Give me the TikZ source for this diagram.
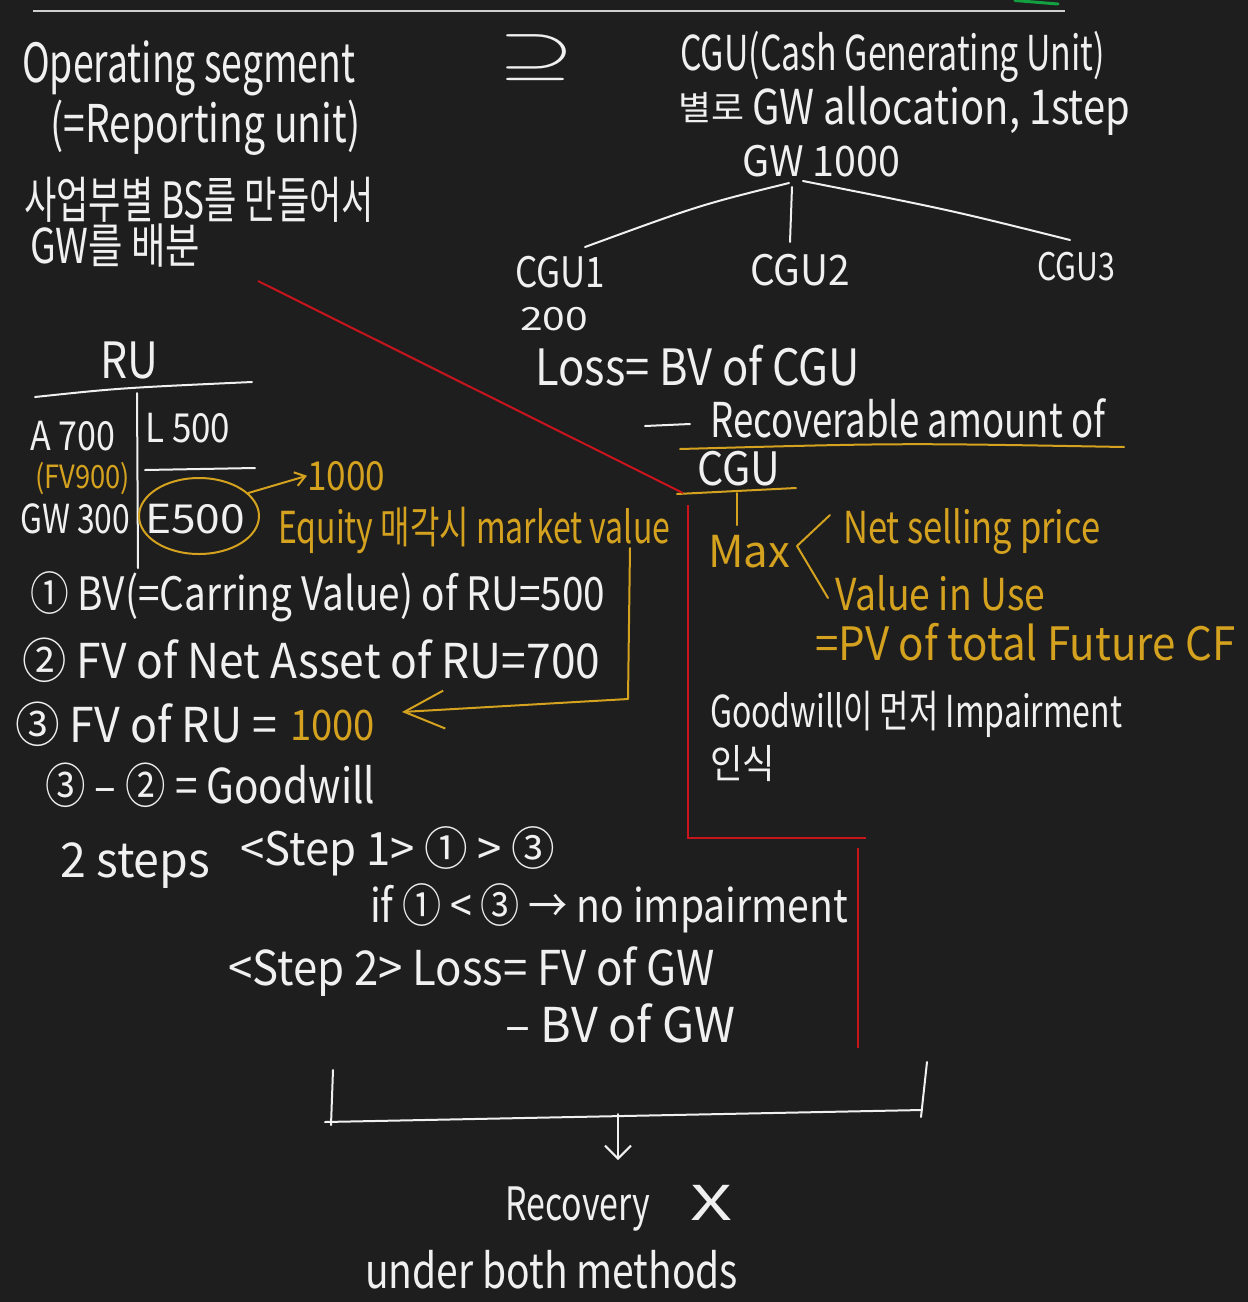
\documentclass[tikz,border=0pt]{standalone}
\usepackage{fontspec}
\setmainfont{Noto Sans CJK KR}
\usepackage{graphicx}
\usetikzlibrary{arrows.meta,shapes.geometric}
\definecolor{bg}{HTML}{1E1E1E}
\definecolor{ink}{HTML}{F0F0F0}
\definecolor{gold}{HTML}{D4A21E}
\definecolor{redl}{HTML}{C8141C}
\definecolor{rulec}{HTML}{D0D0D0}
\definecolor{grn}{HTML}{12A040}
\newcommand{\hw}[3]{\resizebox{#1pt}{\height}{\fontsize{#2pt}{#2pt}\selectfont #3}}
\begin{document}
\begin{tikzpicture}[x=1pt,y=-1pt,
  wt/.style={inner sep=0pt, anchor=base west, text=ink},
  gt/.style={wt, text=gold},
  wl/.style={draw=ink, line width=2, line cap=round, line join=round},
  gl/.style={draw=gold, line width=2, line cap=round, line join=round},
  rl/.style={draw=redl, line width=2}]
\fill[bg] (0,0) rectangle (1248,1302);
\useasboundingbox (0,0) rectangle (1248,1302);

% top rule
\draw[draw=rulec, line width=2.5] (33,11) -- (1065,11);
\draw[draw=grn, line width=3, line cap=round] (1015,0.5) -- (1058,4);

% top left
\node[wt] (opseg) at (22,82) {\hw{333}{54}{Operating segment}};
\node[wt] (repu) at (50,142) {\hw{310}{52}{(=Reporting unit)}};
\node[wt] (kr1) at (24,218) {\hw{350}{50}{사업부별 BS를 만들어서}};
\node[wt] (kr2) at (30,263) {\hw{170}{48}{GW를 배분}};
\node[inner sep=2pt, text=ink] (supeq) at (537,58) {\resizebox*{76pt}{46pt}{$\supseteq$}};

% top right
\node[wt] (cgut) at (680,70) {\hw{425}{48}{CGU(Cash Generating Unit)}};
\node[wt] (byl) at (678,120) {\hw{66}{34}{별로}};
\node[wt] (alloc) at (752,124) {\hw{378}{48}{GW allocation, 1step}};
\node[wt] (gw) at (742,176) {\hw{158}{42}{GW 1000}};
\node[wt] (c1) at (515,287) {\hw{90}{42}{CGU1}};
\node[wt] (c2) at (750,285) {\hw{100}{42}{CGU2}};
\node[wt] (c3) at (1037,280) {\hw{78}{38}{CGU3}};
\node[wt] (two) at (520,330) {\hw{68}{32}{200}};

\coordinate (f1) at (789,183);
\coordinate (f2) at (792,187);
\coordinate (f3) at (803,181);
\coordinate (e1) at (585,247);
\coordinate (e2) at (790,242);
\coordinate (e3) at (1070,240);
\draw[wl] (f1) .. controls (700,205) .. (e1);
\draw[wl] (f2) -- (e2);
\draw[wl] (f3) .. controls (950,210) .. (e3);

\node[wt] (loss) at (535,385) {\hw{325}{50}{Loss= BV of CGU}};
\coordinate (d1) at (645,426);
\coordinate (d2) at (690,424);
\draw[wl] (d1) -- (d2);
\node[wt] (reco) at (710,437) {\hw{395}{48}{Recoverable amount of}};
\coordinate (u1) at (680,449);
\coordinate (u2) at (1124,447);
\draw[gl] (u1) .. controls (900,443) .. (u2);
\node[wt] (cgub) at (697,485) {\hw{83}{46}{CGU}};
\coordinate (u3) at (677,494);
\coordinate (u4) at (796,488);
\draw[gl] (u3) -- (u4);
\coordinate (t1) at (737,493);
\coordinate (t2) at (737,525);
\draw[gl] (t1) -- (t2);
\node[gt] (max) at (708,567) {\hw{82}{44}{Max}};
\coordinate (b1) at (830,515);
\coordinate (b2) at (797,546);
\coordinate (b3) at (828,598);
\draw[gl] (b1) -- (b2) -- (b3);
\node[gt] (nsp) at (843,543) {\hw{257}{44}{Net selling price}};
\node[gt] (viu) at (835,610) {\hw{210}{44}{Value in Use}};
\node[gt] (pv) at (815,660) {\hw{420}{46}{=PV of total Future CF}};
\node[wt] (gwimp) at (710,727) {\hw{412}{44}{Goodwill이 먼저 Impairment}};
\node[wt] (insik) at (710,778) {\hw{65}{40}{인식}};

% red lines
\coordinate (r1) at (258,281);
\coordinate (r2) at (683,493);
\coordinate (r3) at (688,505);
\coordinate (r4) at (688,838);
\coordinate (r5) at (866,838);
\coordinate (r6) at (858,848);
\coordinate (r7) at (858,1048);
\draw[rl] (r1) -- (r2);
\draw[rl] (r3) -- (r4) -- (r5);
\draw[rl] (r6) -- (r7);

% T account
\node[wt] (ru) at (100,378) {\hw{58}{50}{RU}};
\coordinate (h1) at (35,397);
\coordinate (h2) at (252,382);
\draw[wl] (h1) .. controls (120,388) .. (h2);
\coordinate (v1) at (137,393);
\coordinate (v2) at (138,568);
\draw[wl] (v1) -- (v2);
\node[wt] (a700) at (30,450) {\hw{85}{40}{A 700}};
\node[wt] (l500) at (145,442) {\hw{85}{40}{L 500}};
\coordinate (l1) at (145,470);
\coordinate (l2) at (255,468);
\draw[wl] (l1) -- (l2);
\node[gt] (fv900) at (35,488) {\hw{95}{32}{(FV900)}};
\node[wt] (gw300) at (20,533) {\hw{110}{40}{GW 300}};
\node[wt] (e500) at (145,533) {\hw{100}{40}{E500}};
\node[draw=gold, ellipse, line width=2, minimum width=120, minimum height=76, inner sep=0] (circ) at (199,516) {};
\node[gt] (th) at (307,490) {\hw{78}{40}{1000}};
\draw[gl,-{Straight Barb[length=10,width=14]}] (circ.25) -- (th.west);
\node[gt] (eq) at (278,543) {\hw{392}{44}{Equity 매각시 market value}};

% numbered lines
\node[wt] (s1) at (30,610) {\hw{575}{46}{① BV(=Carring Value) of RU=500}};
\node[wt] (s2) at (22,678) {\hw{578}{48}{② FV of Net Asset of RU=700}};
\node[wt] (s3) at (15,742) {\hw{262}{48}{③ FV of RU =}};
\node[gt] (s3v) at (290,740) {\hw{85}{42}{1000}};
\coordinate (m1) at (630,548);
\coordinate (m2) at (628,699);
\coordinate (m3) at (402,712);
\draw[gl,-{Straight Barb[length=40,width=38]}] (m1) -- (m2) -- (m3);
\node[wt] (gwl) at (45,803) {\hw{330}{48}{③ – ② = Goodwill}};
\node[wt] (steps) at (60,877) {\hw{150}{48}{2 steps}};
\node[wt] (st1) at (240,865) {\hw{315}{46}{<Step 1> ① > ③}};
\node[wt] (ifl) at (370,922) {\hw{478}{46}{if ① < ③ → no impairment}};
\node[wt] (st2) at (228,985) {\hw{487}{48}{<Step 2> Loss= FV of GW}};
\node[wt] (bvgw) at (505,1042) {\hw{230}{48}{– BV of GW}};

% bottom bracket
\coordinate (k1) at (333,1070);
\coordinate (k2) at (331,1125);
\coordinate (k3) at (325,1122);
\coordinate (k4) at (922,1110);
\coordinate (k5) at (927,1062);
\coordinate (k6) at (921,1117);
\draw[wl] (k1) -- (k2);
\draw[wl] (k3) -- (k4);
\draw[wl] (k5) -- (k6);
\coordinate (a1) at (618,1114);
\coordinate (a2) at (618,1160);
\draw[wl,-{Straight Barb[length=13,width=26]}] (a1) -- (a2);
\node[wt] (recv) at (505,1220) {\hw{145}{46}{Recovery}};
\node[wt] (xx) at (690,1220) {\hw{42}{48}{X}};
\node[wt] (both) at (365,1288) {\hw{373}{48}{under both methods}};
\end{tikzpicture}
\end{document}
